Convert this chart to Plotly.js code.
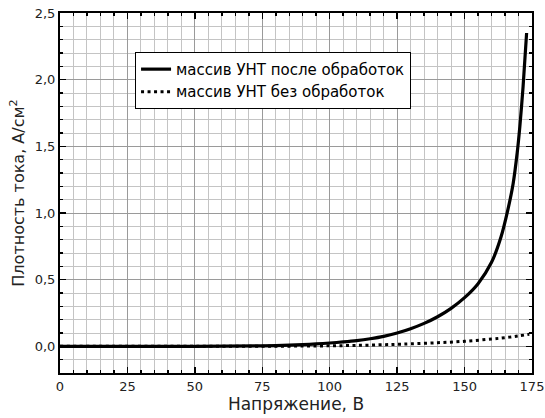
<!DOCTYPE html>
<html>
<head>
<meta charset="utf-8">
<script src="https://cdn.plot.ly/plotly-3.0.1.min.js"></script>
<style>html,body{margin:0;padding:0;background:#fff}#chart{width:545px;height:418px}</style>
</head>
<body>
<div id="chart"></div>
<script>
const treatedX = [0, 25, 50, 75, 80, 85, 90, 95, 100, 105, 110, 115, 120, 125, 130, 135, 140, 145, 150, 155, 160, 163.5, 166, 168, 169.5, 170.5, 171.7, 173];
const treatedY = [0, 0, 0, 0.004, 0.006, 0.009, 0.013, 0.018, 0.025, 0.033, 0.043, 0.057, 0.075, 0.1, 0.132, 0.172, 0.222, 0.285, 0.365, 0.47, 0.63, 0.82, 1.02, 1.22, 1.45, 1.65, 1.95, 2.35];
const untreatedX = [0, 25, 50, 75, 80, 90, 100, 110, 120, 125, 130, 140, 150, 160, 165, 170, 174];
const untreatedY = [0, 0, 0, 0, 0.001, 0.002, 0.004, 0.007, 0.012, 0.015, 0.019, 0.027, 0.038, 0.055, 0.065, 0.078, 0.09];
const seriesNames = ["массив УНТ после обработок", "массив УНТ без обработок"];
const xTitle = "Напряжение, В";
const yTitle = "Плотность тока, А/см<sup>2</sup>";

const FONT = "DejaVu Sans, Verdana, sans-serif";

const traces = [
  {x: treatedX, y: treatedY, name: seriesNames[0], mode: "lines", type: "scatter",
   line: {color: "#000", width: 3.2, shape: "spline", smoothing: 0.8}},
  {x: untreatedX, y: untreatedY, name: seriesNames[1], mode: "lines", type: "scatter",
   line: {color: "#000", width: 3, dash: "3px,3.5px", shape: "spline"}}
];

const axisCommon = {
  showline: true, linecolor: "#000", linewidth: 2, mirror: "ticks",
  ticks: "inside", ticklen: 6, tickwidth: 1.5, tickcolor: "#000",
  showgrid: true, gridcolor: "#9a9a9a", gridwidth: 1, zeroline: false,
  tickfont: {family: FONT, size: 13, color: "#222"},
};

const layout = {
  width: 545, height: 418,
  margin: {l: 60, r: 12.5, t: 13, b: 45},
  paper_bgcolor: "#fff", plot_bgcolor: "#fff",
  separators: ", ",
  showlegend: true,
  legend: {x: 0.159, y: 0.892, xanchor: "left", yanchor: "top",
    bgcolor: "#fff", bordercolor: "#000", borderwidth: 1,
    font: {family: FONT, size: 15, color: "#000"},
    tracegroupgap: 0, itemwidth: 30},
  xaxis: Object.assign({}, axisCommon, {
    range: [0, 175], tick0: 0, dtick: 25,
    minor: {dtick: 5, ticks: "inside", ticklen: 3, tickcolor: "#000", showgrid: true, gridcolor: "#c4c4c4", gridwidth: 1},
    title: {text: xTitle, standoff: 3, font: {family: FONT, size: 17, color: "#222"}}
  }),
  yaxis: Object.assign({}, axisCommon, {
    range: [-0.2, 2.5], tick0: 0, dtick: 0.5, tickformat: ".1f",
    minor: {dtick: 0.1, ticks: "inside", ticklen: 3, tickcolor: "#000", showgrid: true, gridcolor: "#c4c4c4", gridwidth: 1},
    title: {text: yTitle, standoff: 6, font: {family: FONT, size: 16, color: "#222"}}
  })
};

Plotly.newPlot("chart", traces, layout, {staticPlot: true, displayModeBar: false});
</script>
</body>
</html>
